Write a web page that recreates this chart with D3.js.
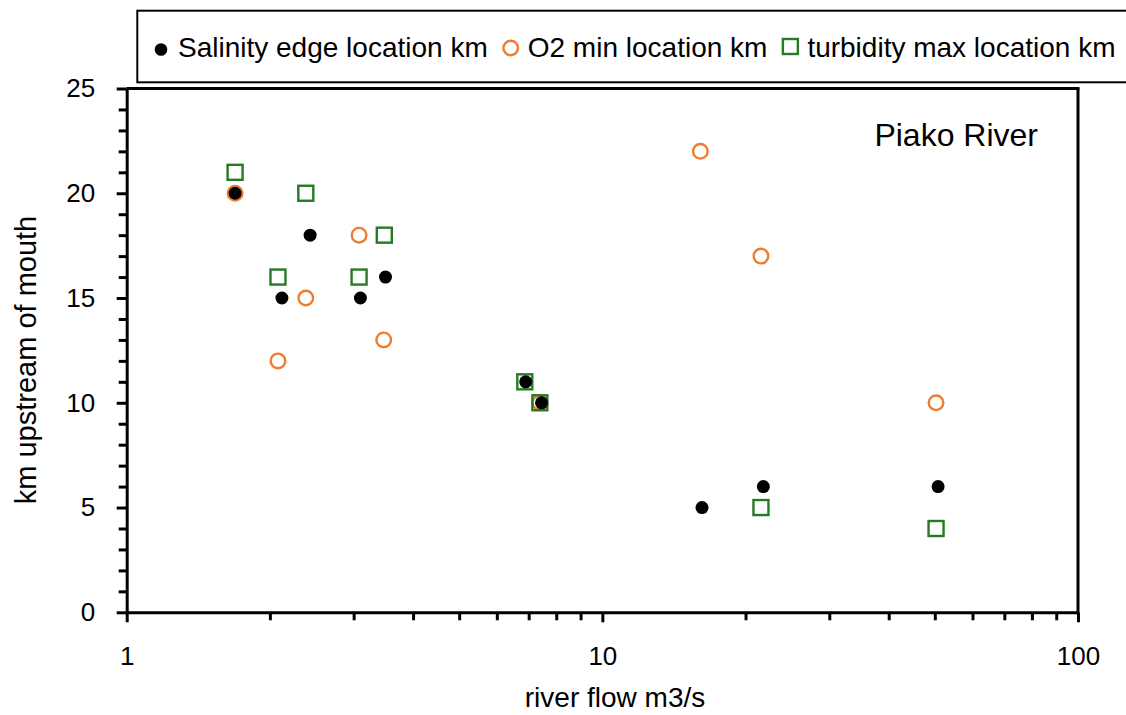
<!DOCTYPE html>
<html>
<head>
<meta charset="utf-8">
<script src="https://cdnjs.cloudflare.com/ajax/libs/d3/7.8.5/d3.min.js"></script>
<style>
  html, body { margin: 0; padding: 0; background: #fff; }
  svg { display: block; font-family: "Liberation Sans", Arial, sans-serif; }
</style>
</head>
<body>
<svg id="chart" width="1126" height="715"></svg>
<script>
// data
const salinityFlow = [1.69, 2.12, 2.43, 3.10, 3.50, 6.9, 7.45, 16.2, 21.8, 50.8];
const salinityKm   = [20, 15, 18, 15, 16, 11, 10, 5, 6, 6];

const o2Flow = [1.69, 2.08, 2.38, 3.08, 3.47, 7.39, 16.07, 21.55, 50.3];
const o2Km   = [20, 12, 15, 18, 13, 10, 22, 17, 10];

const turbFlow = [1.69, 2.08, 2.38, 3.08, 3.48, 6.87, 7.39, 21.55, 50.3];
const turbKm   = [21, 16, 20, 16, 18, 11, 10, 5, 4];

const xMajorTicks = [1, 10, 100];
const yMajorTicks = [0, 5, 10, 15, 20, 25];

const seriesNames = ["Salinity edge location km", "O2 min location km", "turbidity max location km"];

const orange = "#ed7d31",
  green = "#267a26";

var svg = d3.select("#chart");

var x = d3.scaleLog().domain([1, 100]).range([126.7, 1078]);
var y = d3.scaleLinear().domain([0, 25]).range([612.3, 88.5]);

var xMinor = d3.range(2, 10).concat(d3.range(20, 100, 10));
var yMinor = d3.range(0, 26).filter(function(v) { return v % 5 != 0; });

// frame top + right
svg.append("line")
  .attr("x1", x(1)).attr("x2", x(100) + 1.5)
  .attr("y1", y(25)).attr("y2", y(25))
  .attr("stroke", "#000").attr("stroke-width", 3);
svg.append("line")
  .attr("x1", x(100)).attr("x2", x(100))
  .attr("y1", y(25)).attr("y2", y(0))
  .attr("stroke", "#000").attr("stroke-width", 3);

// minor ticks
svg.append("g")
  .attr("transform", "translate(0," + y(0) + ")")
  .call(d3.axisBottom(x).tickValues(xMinor).tickSize(8).tickFormat(""))
  .call(function(g) { g.select(".domain").remove(); });
svg.append("g")
  .attr("transform", "translate(" + x(1) + ",0)")
  .call(d3.axisLeft(y).tickValues(yMinor).tickSize(8).tickFormat(""))
  .call(function(g) { g.select(".domain").remove(); });

// major axes
var xAxis = svg.append("g")
  .attr("transform", "translate(0," + y(0) + ")")
  .call(d3.axisBottom(x).tickValues(xMajorTicks).tickSize(10).tickSizeOuter(0)
    .tickPadding(24).tickFormat(d3.format("d")));
var yAxis = svg.append("g")
  .attr("transform", "translate(" + x(1) + ",0)")
  .call(d3.axisLeft(y).tickValues(yMajorTicks).tickSize(10).tickSizeOuter(0)
    .tickPadding(21.5));

svg.selectAll(".tick line").attr("stroke", "#000").attr("stroke-width", 3);
svg.selectAll(".domain").attr("stroke", "#000").attr("stroke-width", 3);
svg.selectAll(".tick text")
  .attr("fill", "#000")
  .style("font-size", "26px")
  .style("font-family", "Liberation Sans, Arial, sans-serif");

// axis titles
svg.append("text")
  .attr("x", 615).attr("y", 707)
  .attr("text-anchor", "middle")
  .style("font-size", "28px")
  .text("river flow m3/s");
svg.append("text")
  .attr("transform", "translate(36,360) rotate(-90)")
  .attr("text-anchor", "middle")
  .style("font-size", "29px")
  .text("km upstream of mouth");

svg.append("text")
  .attr("x", 1038).attr("y", 146)
  .attr("text-anchor", "end")
  .style("font-size", "32px")
  .text("Piako River");

// points
var o2 = d3.zip(o2Flow, o2Km);
var turb = d3.zip(turbFlow, turbKm);
var sal = d3.zip(salinityFlow, salinityKm);

svg.append("g").selectAll("circle")
  .data(o2).enter().append("circle")
  .attr("cx", function(d) { return x(d[0]); })
  .attr("cy", function(d) { return y(d[1]); })
  .attr("r", 7.3)
  .attr("fill", "none")
  .attr("stroke", orange)
  .attr("stroke-width", 2.4);

var sq = 15;
svg.append("g").selectAll("rect")
  .data(turb).enter().append("rect")
  .attr("x", function(d) { return x(d[0]) - sq / 2; })
  .attr("y", function(d) { return y(d[1]) - sq / 2; })
  .attr("width", sq).attr("height", sq)
  .attr("fill", "none")
  .attr("stroke", green)
  .attr("stroke-width", 2.4);

svg.append("g").selectAll("circle")
  .data(sal).enter().append("circle")
  .attr("cx", function(d) { return x(d[0]); })
  .attr("cy", function(d) { return y(d[1]); })
  .attr("r", 6.5)
  .attr("fill", "#000");

// legend
svg.append("rect")
  .attr("x", 137.3).attr("y", 10.7)
  .attr("width", 1100).attr("height", 71.6)
  .attr("fill", "#fff")
  .attr("stroke", "#000").attr("stroke-width", 2);

var legend = svg.append("g");
var lx = 161, ly = 48;
seriesNames.forEach(function(name, i) {
  if (i == 0) {
    legend.append("circle").attr("cx", lx).attr("cy", ly + 1.5).attr("r", 6.3).attr("fill", "#000");
  } else if (i == 1) {
    legend.append("circle").attr("cx", lx).attr("cy", ly).attr("r", 7.3)
      .attr("fill", "none").attr("stroke", orange).attr("stroke-width", 2.4);
  } else {
    legend.append("rect").attr("x", lx - sq / 2).attr("y", ly - 1.5 - sq / 2)
      .attr("width", sq).attr("height", sq)
      .attr("fill", "none").attr("stroke", green).attr("stroke-width", 2.4);
  }
  var t = legend.append("text")
    .attr("x", lx + 17).attr("y", 57)
    .style("font-size", "28px")
    .text(name);
  lx = lx + 17 + t.node().getComputedTextLength() + 23;
});
</script>
</body>
</html>
